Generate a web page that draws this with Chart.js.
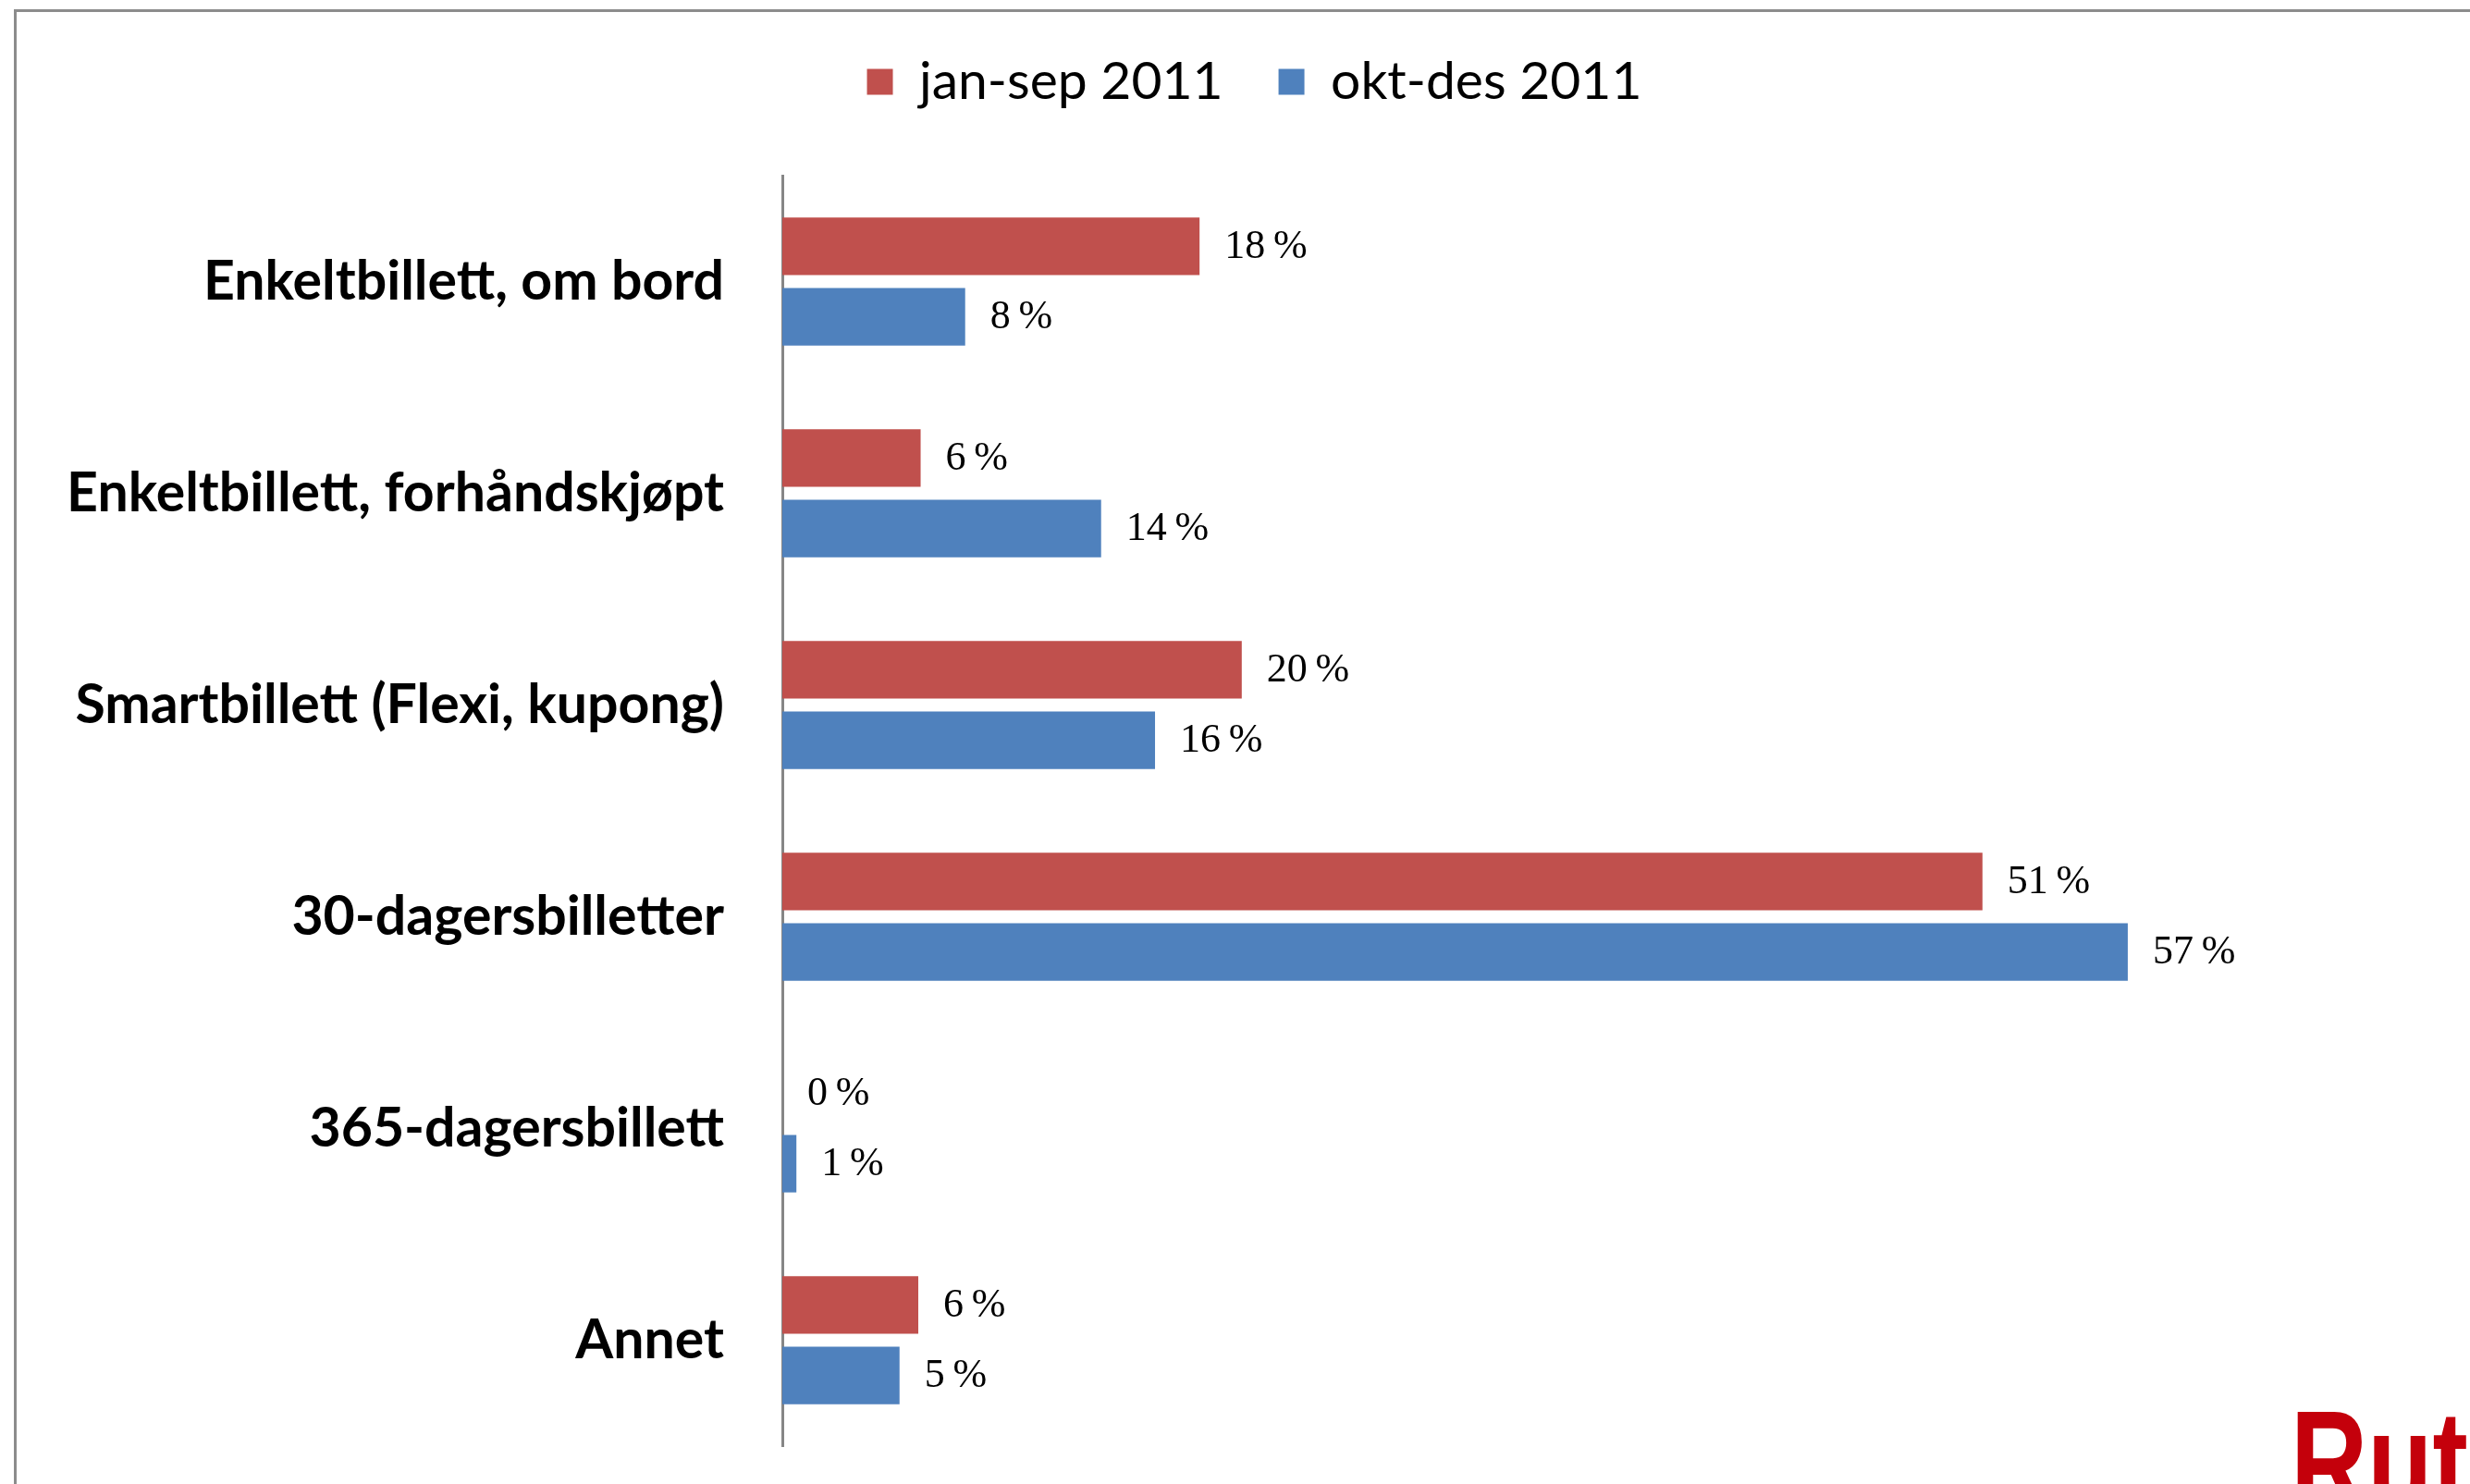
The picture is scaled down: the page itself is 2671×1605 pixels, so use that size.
<!DOCTYPE html>
<html>
<head>
<meta charset="utf-8">
<title>Billettyper 2011</title>
<script src="https://cdn.jsdelivr.net/npm/chart.js@4/dist/chart.umd.min.js"></script>
<style>
    html, body { margin: 0; padding: 0; background: #fff; overflow: hidden; }
    #wrap { position: relative; width: 2671px; height: 1605px; overflow: hidden; }
    #frame {
        position: absolute; left: 15px; top: 10px; width: 2700px; height: 1700px;
        border-left: 3px solid #8c8c8c; border-top: 3px solid #8c8c8c;
        pointer-events: none;
    }
    #logo {
        position: absolute; left: 2477px; top: 1502px;
        font-family: "Liberation Sans", Arial, sans-serif; font-weight: bold;
        font-size: 160px; line-height: 1; color: #c4000b;
        transform: scaleX(0.72); transform-origin: left top; white-space: nowrap;
    }
</style>
</head>
<body>
<div id="wrap">
    <canvas id="chart" width="2671" height="1605"></canvas>
    <div id="frame"></div>
    <div id="logo">Ruter</div>
</div>
<script>
'use strict';

var categories = [
    'Enkeltbillett, om bord',
    'Enkeltbillett, forhåndskjøpt',
    'Smartbillett (Flexi, kupong)',
    '30-dagersbilletter',
    '365-dagersbillett',
    'Annet'
];
var seriesNames = ['jan-sep 2011', 'okt-des 2011'];
var janSep = [17.8, 5.9, 19.6, 51.2, 0, 5.8];
var oktDes = [7.8, 13.6, 15.9, 57.4, 0.6, 5.0];
var seriesColors = ['#c0504d', '#4f81bd'];

// value labels to the right of each bar ("18 %")
var valueLabels = {
    id: 'valueLabels',
    afterDatasetsDraw: function (chart) {
        var ctx = chart.ctx;
        ctx.save();
        ctx.font = '44px "Liberation Serif", serif';
        ctx.fillStyle = '#000';
        ctx.textAlign = 'left';
        ctx.textBaseline = 'middle';
        chart.data.datasets.forEach(function (ds, i) {
            chart.getDatasetMeta(i).data.forEach(function (bar, j) {
                ctx.fillText(Math.round(ds.data[j]) + '\u2009%', bar.x + 27, bar.y + 1);
            });
        });
        ctx.restore();
    }
};

// the legend in the original sits a little right of the page centre
var legendShift = {
    id: 'legendShift',
    afterLayout: function (chart) {
        chart.legend.left += 21;
        chart.legend.right += 21;
    }
};

function drawChart() {
    var ctx = document.getElementById('chart').getContext('2d');
    new Chart(ctx, {
        type: 'bar',
        data: {
            labels: categories,
            datasets: [
                { label: seriesNames[0], data: janSep, backgroundColor: seriesColors[0] },
                { label: seriesNames[1], data: oktDes, backgroundColor: seriesColors[1] }
            ]
        },
        options: {
            indexAxis: 'y',
            responsive: false,
            animation: false,
            devicePixelRatio: 1,
            categoryPercentage: 0.665,
            barPercentage: 0.816,
            layout: { padding: { top: 0, left: 0, right: 0, bottom: 41 } },
            plugins: {
                tooltip: { enabled: false },
                legend: {
                    position: 'top',
                    labels: {
                        boxWidth: 28,
                        boxHeight: 28,
                        padding: 60,
                        color: '#000',
                        font: { family: 'Lato', size: 57 }
                    }
                }
            },
            scales: {
                x: {
                    position: 'top',
                    min: 0,
                    max: 72,
                    grid: { display: false },
                    border: { display: false },
                    ticks: { display: false },
                    afterFit: function (scale) { scale.height = 63; }
                },
                y: {
                    grid: { display: false, drawTicks: true, tickLength: 60 },
                    border: { display: true, color: '#868686', width: 3 },
                    ticks: {
                        padding: 3,
                        color: '#000',
                        font: { family: 'Lato', size: 59, weight: 'bold' }
                    },
                    afterFit: function (scale) { scale.width = 846; }
                }
            }
        },
        plugins: [valueLabels, legendShift]
    });
}

Promise.all([
    document.fonts.load('57px Lato'),
    document.fonts.load('bold 59px Lato'),
    document.fonts.load('44px "Liberation Serif"')
]).then(drawChart, drawChart);
</script>
</body>
</html>
